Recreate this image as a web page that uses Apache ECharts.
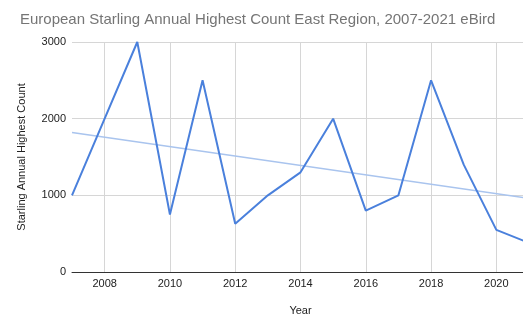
<!DOCTYPE html>
<html lang="en">
<head>
    <meta charset="UTF-8">
    <title>European Starling</title>
    <style>
        html, body { margin: 0; padding: 0; background: #fff; }
        #main { width: 523px; height: 316px; }
    </style>
</head>
<body>
<div id="main"></div>
<script src="https://cdn.jsdelivr.net/npm/echarts@6/dist/echarts.min.js"></script>
<script>
// 数据
var years = ['2007', '2008', '2009', '2010', '2011', '2012', '2013', '2014',
             '2015', '2016', '2017', '2018', '2019', '2020', '2021'];
var highestCount = [1000, 2000, 3000, 750, 2500, 630, 1000, 1300,
                    2000, 800, 1000, 2500, 1400, 550, 380];
// trendline, read at both ends
var trendStart = 1820;
var trendEnd = 960;
var yTicks = [0, 1000, 2000, 3000];

var chartFont = '"Liberation Sans", Arial, sans-serif';

function draw() {
    var myChart = echarts.init(document.getElementById('main'));

    var trendData = years.map(function (y, i) {
        if (i === 0) return trendStart;
        if (i === years.length - 1) return trendEnd;
        return null;
    });

    var option = {
        backgroundColor: '#ffffff',
        animation: false,
        title: {
            text: 'European Starling Annual Highest Count East Region, 2007-2021 eBird',
            left: 15,
            top: 7,
            textStyle: {
                fontFamily: chartFont,
                fontSize: 15,
                fontWeight: 'normal',
                color: '#757575'
            }
        },
        grid: {
            left: 72,
            right: -6,
            top: 42,
            bottom: 44,
            containLabel: false,
            outerBoundsMode: 'none'
        },
        xAxis: {
            type: 'category',
            data: years,
            boundaryGap: false,
            name: 'Year',
            nameLocation: 'middle',
            nameGap: 33,
            nameTextStyle: { fontFamily: chartFont, fontSize: 11, color: '#222' },
            axisLine: { show: true, lineStyle: { color: '#333', width: 1 } },
            axisTick: { show: false },
            axisLabel: {
                interval: function (index) { return index % 2 === 1; },
                fontFamily: chartFont,
                fontSize: 11,
                color: '#222',
                margin: 6
            },
            splitLine: {
                show: true,
                interval: function (index) { return index % 2 === 1; },
                lineStyle: { color: '#d6d6d6', width: 1 }
            }
        },
        yAxis: {
            type: 'value',
            min: yTicks[0],
            max: yTicks[yTicks.length - 1],
            interval: 1000,
            name: 'Starling Annual Highest Count',
            nameLocation: 'middle',
            nameGap: 45,
            nameTextStyle: { fontFamily: chartFont, fontSize: 11, color: '#222' },
            axisLine: { show: false },
            axisTick: { show: false },
            axisLabel: {
                formatter: function (v) { return String(v); },
                fontFamily: chartFont,
                fontSize: 11,
                color: '#222',
                margin: 6
            },
            splitLine: { lineStyle: { color: '#d6d6d6', width: 1 } }
        },
        series: [
            {
                name: 'Trend',
                type: 'line',
                data: trendData,
                connectNulls: true,
                symbol: 'none',
                lineStyle: { color: '#a9c4ee', width: 1.6 },
                z: 2
            },
            {
                name: 'Highest count',
                type: 'line',
                data: highestCount,
                symbol: 'none',
                lineStyle: { color: '#4a80dc', width: 2 },
                z: 3
            }
        ]
    };

    myChart.setOption(option);
}

window.onload = function () {
    draw();
};
</script>
</body>
</html>
